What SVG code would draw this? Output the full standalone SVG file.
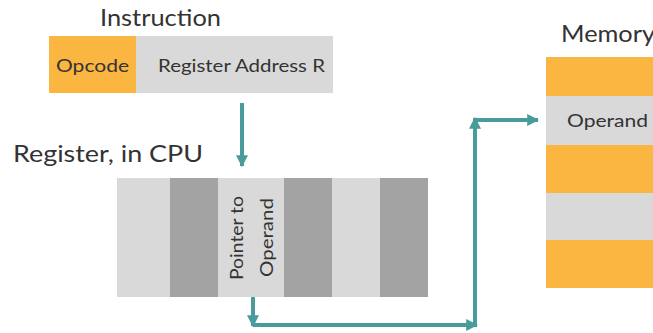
<svg xmlns="http://www.w3.org/2000/svg" width="653" height="333" viewBox="0 0 653 333">
<style>
text{font-family:Lato,"Open Sans",sans-serif;fill:#333}
.t{font-size:24px}
.s{font-size:18px}
.or{fill:#FBB541}
.lg{fill:#D9D9D9}
.dg{fill:#A3A3A3}
.c{stroke:#4A9C9C;stroke-width:4;fill:none}
</style>
<defs>
<marker id="ah" viewBox="0 0 10 10" refX="9" refY="5" markerWidth="3" markerHeight="3" orient="auto" markerUnits="strokeWidth">
<path d="M0,0 L10,5 L0,10 z" fill="#4A9C9C"/>
</marker>
</defs>
<rect width="653" height="333" fill="#fff"/>
<g id="instruction">
<text class="t" x="100" y="26" textLength="121" lengthAdjust="spacingAndGlyphs">Instruction</text>
<rect class="lg" x="49" y="36" width="284" height="57"/>
<rect class="or" x="49" y="36" width="87" height="57"/>
<text class="s" x="56" y="72" textLength="73" lengthAdjust="spacingAndGlyphs">Opcode</text>
<text class="s" x="158" y="72" textLength="167" lengthAdjust="spacingAndGlyphs">Register Address R</text>
</g>
<g id="register">
<text class="t" x="13" y="162" textLength="190" lengthAdjust="spacingAndGlyphs">Register, in CPU</text>
<rect class="lg" x="117" y="178" width="311" height="119"/>
<rect class="dg" x="170" y="178" width="48" height="119"/>
<rect class="dg" x="284" y="178" width="48" height="119"/>
<rect class="dg" x="380" y="178" width="48" height="119"/>
<text class="s" transform="translate(243,280) rotate(-90)" textLength="84" lengthAdjust="spacingAndGlyphs">Pointer to</text>
<text class="s" transform="translate(273,277) rotate(-90)" textLength="79" lengthAdjust="spacingAndGlyphs">Operand</text>
</g>
<g id="memory">
<text class="t" x="561" y="42" textLength="94" lengthAdjust="spacingAndGlyphs">Memory</text>
<rect class="or" x="546" y="57" width="107" height="39"/>
<rect class="lg" x="546" y="96" width="107" height="49"/>
<rect class="or" x="546" y="145" width="107" height="48"/>
<rect class="lg" x="546" y="193" width="107" height="47"/>
<rect class="or" x="546" y="240" width="107" height="48"/>
<text class="s" x="567" y="127" textLength="81" lengthAdjust="spacingAndGlyphs">Operand</text>
</g>
<g id="connectors">
<line class="c" x1="242" y1="103" x2="242" y2="166" marker-end="url(#ah)"/>
<line class="c" x1="253" y1="297" x2="253" y2="326" marker-end="url(#ah)"/>
<line class="c" x1="253" y1="325" x2="477" y2="325" marker-end="url(#ah)"/>
<line class="c" x1="475" y1="325" x2="475" y2="118" marker-end="url(#ah)"/>
<line class="c" x1="475" y1="120" x2="538" y2="120" marker-end="url(#ah)"/>
</g>
</svg>
